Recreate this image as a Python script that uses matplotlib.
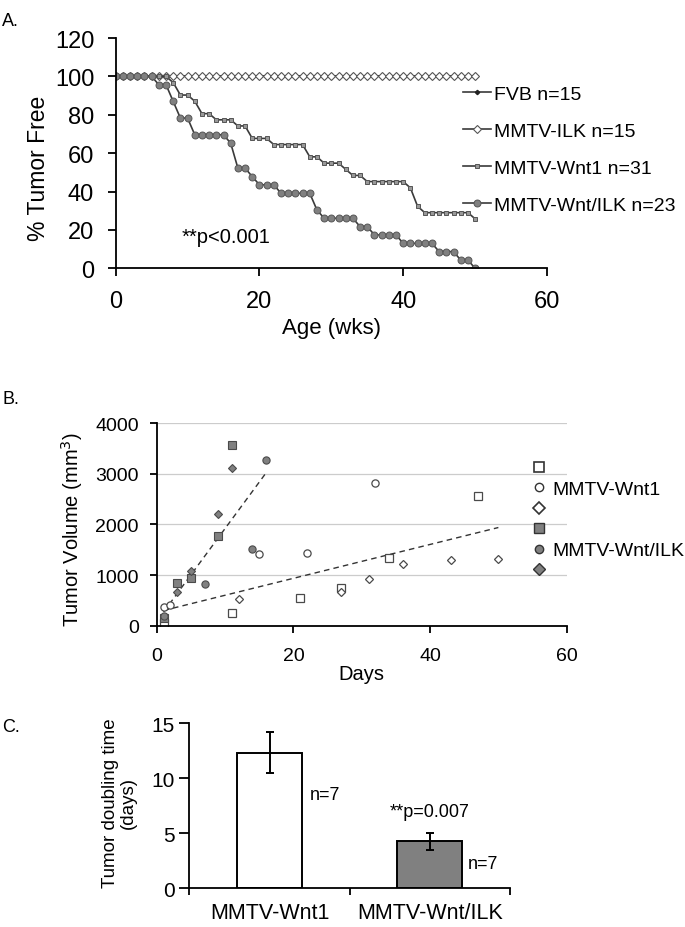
import matplotlib
matplotlib.use("Agg")
import matplotlib.pyplot as plt
from matplotlib.lines import Line2D

plt.rcParams["font.family"] = ["Liberation Sans", "DejaVu Sans"]

# ---- panel A: % tumor free by age (weeks)
weeks = list(range(0, 51))
fvb_pct = [100.0] * 51
ilk_pct = [100.0] * 51
wnt1_pct = ([100.0] * 8 + [96.8] + [90.3] * 2 + [87.1] + [80.6] * 2 + [77.4] * 3
            + [74.2] * 2 + [67.7] * 3 + [64.5] * 5 + [58.1] * 2 + [54.8] * 3
            + [51.6] + [48.4] * 2 + [45.2] * 6 + [41.9] + [32.3] + [29.0] * 7 + [25.8])
wntilk_pct = ([100.0] * 6 + [95.7] * 2 + [87.0] + [78.3] * 2 + [69.6] * 5 + [65.2]
              + [52.2] * 2 + [47.8] + [43.5] * 3 + [39.1] * 5 + [30.4] + [26.1] * 5
              + [21.7] * 2 + [17.4] * 4 + [13.0] * 5 + [8.7] * 3 + [4.3] * 2 + [0.0])
a_labels = ["FVB n=15", "MMTV-ILK n=15", "MMTV-Wnt1 n=31", "MMTV-Wnt/ILK n=23"]

# ---- panel B: tumor volume (mm3) by days
wnt1_sq_days = [1, 11, 21, 27, 34, 47]
wnt1_sq_vol = [60, 245, 550, 750, 1330, 2570]
wnt1_ci_days = [1, 2, 15, 22, 32]
wnt1_ci_vol = [365, 400, 1415, 1445, 2820]
wnt1_di_days = [12, 27, 31, 36, 43, 50]
wnt1_di_vol = [525, 660, 930, 1215, 1305, 1325]
ilk_sq_days = [1, 3, 5, 9, 11]
ilk_sq_vol = [150, 845, 945, 1770, 3580]
ilk_ci_days = [1, 7, 14, 16]
ilk_ci_vol = [200, 815, 1525, 3270]
ilk_di_days = [3, 5, 9, 11]
ilk_di_vol = [665, 1075, 2210, 3120]
wnt1_trend_days = [1, 50]
wnt1_trend_vol = [300, 1940]
ilk_trend_days = [1, 16]
ilk_trend_vol = [270, 3020]

# ---- panel C: doubling time
groups = ["MMTV-Wnt1", "MMTV-Wnt/ILK"]
doubling = [12.3, 4.25]
doubling_err = [1.85, 0.75]

LINE = "#3a3a3a"
FILL = "#808080"
EDGE = "#4a4a4a"

fig = plt.figure(figsize=(6.85, 9.28), dpi=100)

# ================= A
ax = fig.add_axes([0.1689, 0.7098, 0.6296, 0.2481])
ax.plot(weeks, fvb_pct, color=LINE, lw=1.2, marker="D", ms=2.2, mfc="#222", mec="#222",
        label=a_labels[0])
ax.plot(weeks, ilk_pct, color=LINE, lw=1.2, marker="D", ms=4.0, mfc="white", mec="#555",
        mew=0.8, label=a_labels[1])
ax.plot(weeks, wnt1_pct, color=LINE, lw=1.2, marker="s", ms=3.2, mfc="#999", mec="#555",
        mew=0.7, label=a_labels[2])
ax.plot(weeks, wntilk_pct, color=LINE, lw=1.2, marker="o", ms=5.0, mfc=FILL, mec="#555",
        mew=0.7, label=a_labels[3])
ax.set_xlim(0, 60)
ax.set_ylim(0, 120)
ax.set_xticks([0, 20, 40, 60])
ax.set_yticks(range(0, 121, 20))
for s in ("top", "right"):
    ax.spines[s].set_visible(False)
for s in ("left", "bottom"):
    ax.spines[s].set_linewidth(1.3)
ax.tick_params(axis="both", labelsize=17, width=1.3, length=6, direction="out", pad=9.5)
ax.set_xlabel("Age (wks)", fontsize=16, labelpad=4)
ax.set_ylabel("% Tumor Free", fontsize=16.5)
ax.yaxis.set_label_coords(-0.152, 0.44)
ax.text(9.2, 16.7, "**p<0.001", fontsize=14.5, va="center", ha="left")
leg = ax.legend(loc="upper left", bbox_to_anchor=(0.806, 0.795), frameon=False,
                fontsize=14, handlelength=1.45, handletextpad=0.15, labelspacing=1.0,
                borderpad=0, borderaxespad=0)
fig.text(2 / 685, 1 - 22 / 928, "A.", fontsize=13, va="center")

# ================= B
bx = fig.add_axes([0.2288, 0.3247, 0.5985, 0.2181])
bx.yaxis.grid(True, color="#cccccc", lw=0.9)
bx.set_axisbelow(True)
ms_b = 5.2
bx.plot(wnt1_trend_days, wnt1_trend_vol, ls=(0, (4, 3)), color="#333", lw=1.0)
bx.plot(ilk_trend_days, ilk_trend_vol, ls=(0, (4, 3)), color="#333", lw=1.0)
bx.plot(wnt1_sq_days, wnt1_sq_vol, ls="none", marker="s", ms=ms_b, mfc="white", mec=EDGE, mew=0.9)
bx.plot(wnt1_ci_days, wnt1_ci_vol, ls="none", marker="o", ms=ms_b, mfc="white", mec=EDGE, mew=0.9)
bx.plot(wnt1_di_days, wnt1_di_vol, ls="none", marker="D", ms=4.2, mfc="white", mec=EDGE, mew=0.9)
bx.plot(ilk_sq_days, ilk_sq_vol, ls="none", marker="s", ms=ms_b, mfc=FILL, mec=EDGE, mew=0.8)
bx.plot(ilk_ci_days, ilk_ci_vol, ls="none", marker="o", ms=ms_b, mfc=FILL, mec=EDGE, mew=0.8)
bx.plot(ilk_di_days, ilk_di_vol, ls="none", marker="D", ms=4.2, mfc=FILL, mec=EDGE, mew=0.8)
bx.set_xlim(0, 60)
bx.set_ylim(0, 4000)
bx.set_xticks([0, 20, 40, 60])
bx.set_yticks(range(0, 4001, 1000))
for s in ("top", "right"):
    bx.spines[s].set_visible(False)
for s in ("left", "bottom"):
    bx.spines[s].set_linewidth(1.3)
bx.tick_params(axis="both", labelsize=14, width=1.3, length=5, direction="out")
bx.tick_params(axis="y", pad=8)
bx.tick_params(axis="x", pad=10)
bx.set_xlabel("Days", fontsize=14.5, labelpad=0)
bx.set_ylabel("Tumor Volume (mm$^3$)", fontsize=14.5)
bx.yaxis.set_label_coords(-0.175, 0.48)

b_handles = [
    Line2D([], [], ls="none", marker="s", ms=7, mfc="white", mec="#333", mew=1.2),
    Line2D([], [], ls="none", marker="o", ms=6, mfc="white", mec="#333", mew=1.0),
    Line2D([], [], ls="none", marker="D", ms=6, mfc="white", mec="#333", mew=1.2),
    Line2D([], [], ls="none", marker="s", ms=7, mfc=FILL, mec="#333", mew=1.0),
    Line2D([], [], ls="none", marker="o", ms=6, mfc=FILL, mec="#333", mew=1.0),
    Line2D([], [], ls="none", marker="D", ms=6.5, mfc=FILL, mec="#333", mew=1.0),
]
b_labels = ["", "MMTV-Wnt1", "", "", "MMTV-Wnt/ILK", ""]
bx.legend(b_handles, b_labels, loc="upper left", bbox_to_anchor=(0.908, 0.82),
          frameon=False, fontsize=14, handlelength=1.0, handletextpad=0.2,
          labelspacing=0.15, borderpad=0, borderaxespad=0)
fig.text(2 / 685, 1 - 400 / 928, "B.", fontsize=13, va="center")

# ================= C
cx = fig.add_axes([0.2764, 0.0420, 0.4682, 0.1778])
xpos = list(range(len(groups)))
cx.bar(xpos, doubling, width=0.405, color=["white", FILL], edgecolor="black", lw=1.4)
cx.errorbar(xpos, doubling, yerr=doubling_err, fmt="none", ecolor="black", elinewidth=1.4,
            capsize=3, capthick=1.4)
cx.set_xlim(-0.5, 1.5)
cx.set_ylim(0, 15)
cx.set_yticks([0, 5, 10, 15])
cx.set_xticks(xpos)
cx.set_xticklabels(groups, fontsize=15.5)
cx.set_xticks([-0.5, 0.5, 1.5], minor=True)
cx.tick_params(axis="x", which="major", length=0, pad=10)
cx.tick_params(axis="x", which="minor", length=5, width=1.3, direction="out")
cx.tick_params(axis="y", labelsize=15, width=1.3, length=7, direction="out")
for s in ("top", "right"):
    cx.spines[s].set_visible(False)
for s in ("left", "bottom"):
    cx.spines[s].set_linewidth(1.3)
cx.set_ylabel("Tumor doubling time\n(days)", fontsize=13.5, linespacing=1.05)
cx.yaxis.set_label_coords(-0.165, 0.52)
cx.text(0.25, 8.5, "n=7", fontsize=13, va="center", ha="left")
cx.text(1.238, 2.2, "n=7", fontsize=13, va="center", ha="left")
cx.text(1.0, 7.0, "**p=0.007", fontsize=13, va="center", ha="center")
fig.text(2 / 685, 1 - 727 / 928, "C.", fontsize=13, va="center")

fig.savefig("out.png", dpi=100, facecolor="white")
